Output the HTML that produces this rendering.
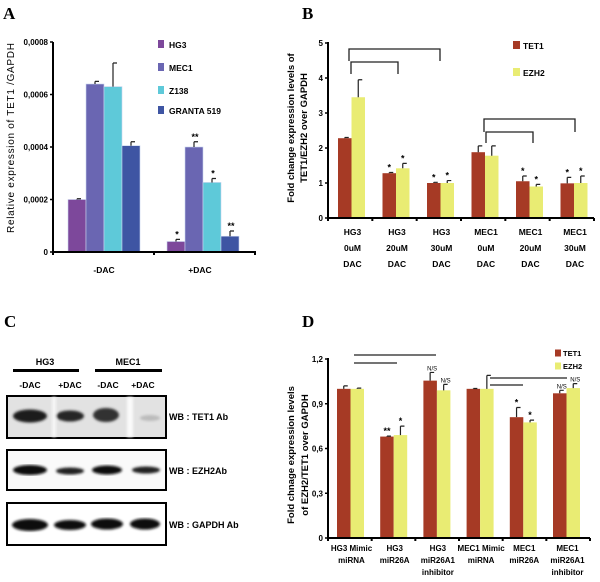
<!DOCTYPE html>
<html><head><meta charset="utf-8"><style>
body{margin:0;background:#fff}
svg{display:block;font-family:"Liberation Sans",sans-serif;font-weight:bold}
.lt{font-family:"Liberation Serif",serif;font-size:17px;font-weight:bold}
</style></head><body>
<svg id="fig" width="600" height="582" viewBox="0 0 600 582" xmlns="http://www.w3.org/2000/svg">
<defs><filter id="blur"><feGaussianBlur stdDeviation="1.3"/></filter></defs>
<text class="lt" x="3" y="19">A</text>
<text class="lt" x="302" y="19">B</text>
<text class="lt" x="4" y="327">C</text>
<text class="lt" x="302" y="327">D</text>
<g id="pa"></g>
<g id="pb"></g>
<g id="pd"></g>
<g id="pc">
 <text x="45" y="365" font-size="9" text-anchor="middle">HG3</text>
 <text x="128" y="365" font-size="9" text-anchor="middle">MEC1</text>
 <rect x="13" y="369" width="66" height="3" fill="#000"/>
 <rect x="95" y="369" width="67" height="3" fill="#000"/>
 <g font-size="8.5" text-anchor="middle">
  <text x="30" y="388">-DAC</text>
  <text x="70" y="388">+DAC</text>
  <text x="108" y="388">-DAC</text>
  <text x="143" y="388">+DAC</text>
 </g>
 <g>
  <rect x="7" y="396" width="159" height="42" fill="#e2e2e2" stroke="#000" stroke-width="2"/>
  <g filter="url(#blur)">
   <rect x="52" y="397" width="4" height="40" fill="#f6f6f6"/><rect x="127" y="397" width="6" height="40" fill="#fafafa"/>
   <ellipse cx="30" cy="416" rx="17" ry="6.5" fill="#1a1a1a"/>
   <ellipse cx="70" cy="416" rx="14" ry="5.5" fill="#262626"/>
   <ellipse cx="106" cy="415" rx="13" ry="7" fill="#333"/>
   <ellipse cx="150" cy="418" rx="10" ry="3" fill="#bbb"/>
  </g>
 </g>
 <g>
  <rect x="7" y="450" width="159" height="40" fill="#fafafa" stroke="#000" stroke-width="2"/>
  <g filter="url(#blur)">
   <ellipse cx="30" cy="470" rx="17" ry="5" fill="#111"/>
   <ellipse cx="70" cy="471" rx="14" ry="3.5" fill="#222"/>
   <ellipse cx="107" cy="470" rx="15" ry="4.5" fill="#111"/>
   <ellipse cx="146" cy="470" rx="14" ry="3.5" fill="#222"/>
  </g>
 </g>
 <g>
  <rect x="7" y="503" width="159" height="42" fill="#fff" stroke="#000" stroke-width="2"/>
  <g filter="url(#blur)">
   <ellipse cx="30" cy="525" rx="18" ry="6" fill="#0a0a0a"/>
   <ellipse cx="70" cy="525" rx="16" ry="5" fill="#0a0a0a"/>
   <ellipse cx="107" cy="524" rx="16" ry="5.5" fill="#0a0a0a"/>
   <ellipse cx="145" cy="524" rx="15" ry="5.5" fill="#0a0a0a"/>
  </g>
 </g>
 <g font-size="9">
  <text x="169" y="420">WB : TET1 Ab</text>
  <text x="169" y="474">WB : EZH2Ab</text>
  <text x="169" y="528">WB : GAPDH Ab</text>
 </g>
</g>
</svg>
<script>
// Panel A data
const aGroups = ["-DAC", "+DAC"];
const aSeries = ["HG3", "MEC1", "Z138", "GRANTA 519"];
const aMinus = [0.0002, 0.00064, 0.00063, 0.000405];
const aPlus = [0.00004, 0.0004, 0.000265, 0.00006];
const aMinusErr = [0.000003, 0.00001, 0.00009, 0.000015];
const aPlusErr = [0.000008, 0.00002, 0.000015, 0.00002];
const aMinusStars = ["", "", "", ""];
const aPlusStars = ["*", "**", "*", "**"];
const aTicks = [0, 0.0002, 0.0004, 0.0006, 0.0008];
const aTickLabels = ["0", "0,0002", "0,0004", "0,0006", "0,0008"];
// Panel B data
const bCats = [["HG3","0uM","DAC"],["HG3","20uM","DAC"],["HG3","30uM","DAC"],["MEC1","0uM","DAC"],["MEC1","20uM","DAC"],["MEC1","30uM","DAC"]];
const bTet1 = [2.28, 1.28, 1.0, 1.88, 1.05, 0.99];
const bEzh2 = [3.45, 1.42, 1.0, 1.78, 0.9, 1.0];
const bTet1Err = [0.02, 0.02, 0.02, 0.18, 0.15, 0.17];
const bEzh2Err = [0.5, 0.14, 0.07, 0.28, 0.06, 0.2];
const bTet1Stars = ["", "*", "*", "", "*", "*"];
const bEzh2Stars = ["", "*", "*", "", "*", "*"];
const bTicks = [0, 1, 2, 3, 4, 5];
// Panel D data
const dCats = [["HG3 Mimic","miRNA"],["HG3","miR26A"],["HG3","miR26A1","inhibitor"],["MEC1 Mimic","miRNA"],["MEC1","miR26A"],["MEC1","miR26A1","inhibitor"]];
const dTet1 = [1.0, 0.68, 1.055, 1.0, 0.81, 0.97];
const dEzh2 = [1.0, 0.69, 0.99, 1.0, 0.775, 1.005];
const dTet1Err = [0.02, 0.003, 0.055, 0.002, 0.065, 0.02];
const dEzh2Err = [0.005, 0.06, 0.04, 0.09, 0.015, 0.03];
const dTet1Stars = ["", "**", "N/S", "", "*", "N/S"];
const dEzh2Stars = ["", "*", "N/S", "", "*", "N/S"];
const dTicks = [0, 0.3, 0.6, 0.9, 1.2];
const dTickLabels = ["0", "0,3", "0,6", "0,9", "1,2"];

const NS = "http://www.w3.org/2000/svg";
function mk(parent, tag, attrs, txt){
  const e = document.createElementNS(NS, tag);
  for (const k in attrs) e.setAttribute(k, attrs[k]);
  if (txt !== undefined) e.textContent = txt;
  parent.appendChild(e); return e;
}
function errBar(g, x, yTop, yErr){
  const l = mk(g, "path", {d:`M${x} ${yTop}V${yErr}M${x} ${yErr}h4`, stroke:"#222", "stroke-width":1.2, fill:"none"});
  
  
}

// ---------- Panel A ----------
(function(){
  const g = document.getElementById("pa");
  const ay = v => 252 - v / 0.0008 * 210;
  const colors = ["#7d489b", "#6a66b2", "#5ec9d9", "#3e55a3"];
  const groupStart = [68, 167];
  const bw = 18;
  aTicks.forEach((t, i) => {
    const tk = mk(g, "line", {x1:50, x2:53, y1:ay(t), y2:ay(t), stroke:"#000", "stroke-width":1.5});
    
    
    const tl = mk(g, "text", {x:48, y:ay(t)+3, "font-size":8, "text-anchor":"end"}, aTickLabels[i]);
    
    
  });
  const vals = [aMinus, aPlus], errs = [aMinusErr, aPlusErr], stars = [aMinusStars, aPlusStars];
  for (let gi = 0; gi < 2; gi++) {
    for (let s = 0; s < 4; s++) {
      const x = groupStart[gi] + s * bw, v = vals[gi][s];
      const r = mk(g, "rect", {x:x, y:ay(v), width:bw, height:252-ay(v), fill:colors[s], stroke:"#c8d4ee", "stroke-width":0.6});
      
      
      errBar(g, x + bw/2, ay(v), ay(v + errs[gi][s]));
      if (stars[gi][s]) {
        const st = mk(g, "text", {x:x+bw/2+1, y:ay(v+errs[gi][s])-2, "font-size":9, "text-anchor":"middle"}, stars[gi][s]);
        
        
      }
    }
    const xl = mk(g, "text", {x:groupStart[gi]+36+(gi?-3:0), y:273, "font-size":8.5, "text-anchor":"middle"}, aGroups[gi]);
    
    
  }
  const ax = mk(g, "path", {d:"M53 42V253M53 252H256M53 252v3M154 252v3M255 252v3", stroke:"#000", "stroke-width":2, fill:"none"});
  
  
  const yt = mk(g, "text", {x:0, y:0, "font-size":10, "font-weight":"normal", "text-anchor":"middle", "textLength":190, transform:"translate(14,138) rotate(-90)"}, "Relative expression of TET1 /GAPDH");
  
  
  const ly = [44, 67, 90, 110];
  aSeries.forEach((n, i) => {
    const sw = mk(g, "rect", {x:158, y:ly[i]-4, width:6, height:8, fill:colors[i]});
    
    
    const lt = mk(g, "text", {x:169, y:ly[i]+4, "font-size":8.5}, n);
    
    
  });
})();

// ---------- grouped two-series chart (B & D) ----------
function pairChart(id, yFn, ticks, tickLabels, cats, s1, s2, e1, e2, st1, st2, g0, gw, labY, yMax, yMin0, xEnd){
  const g = document.getElementById(id);
  const c1 = "#a63a25", c2 = "#e9ec73";
  ticks.forEach((t, i) => {
    const tk = mk(g, "line", {x1:325, x2:328, y1:yFn(t), y2:yFn(t), stroke:"#000", "stroke-width":1.5});
    
    
    const tl = mk(g, "text", {x:323, y:yFn(t)+3, "font-size":8, "text-anchor":"end"}, tickLabels[i]);
    
    
  });
  const y0 = yFn(0), bw = 13.5;
  cats.forEach((c, i) => {
    const x = g0 + i * gw;
    [[s1,e1,st1,c1,'tet1'],[s2,e2,st2,c2,'ezh2']].forEach((s, k) => {
      const v = s[0][i], bx = x + k*bw;
      const r = mk(g, "rect", {x:bx, y:yFn(v), width:bw, height:y0-yFn(v), fill:s[3]});
      
      
      errBar(g, bx + bw/2, yFn(v), yFn(v + s[1][i]));
      if (s[2][i]) {
        const ns = s[2][i] === "N/S";
        const st = mk(g, "text", {x:bx+bw/2+(ns?2:0), y:yFn(v+s[1][i])-2, "font-size":ns?6:9, "font-weight":ns?"normal":"bold", "text-anchor":"middle"}, s[2][i]);
        
        
      }
    });
    c.forEach((line, li) => {
      const t = mk(g, "text", {x:x+bw+1, y:labY+li*(id==="pb"?16:12), "font-size":id==="pb"?8.5:8, "text-anchor":"middle"}, line);
      
      
    });
  });
  let d = `M328 ${yMax}V${y0+1}M328 ${y0}H${xEnd}`;
  for (let i = 0; i <= cats.length; i++) { const tx = 328 + i*(xEnd-328)/cats.length; d += `M${tx} ${y0}v3`; }
  const ax = mk(g, "path", {d:d, stroke:"#000", "stroke-width":2, fill:"none"});
  
  
}

// Panel B
const byFn = v => 218 - v * 35;
pairChart("pb", byFn, bTicks, bTicks.map(String), bCats, bTet1, bEzh2, bTet1Err, bEzh2Err, bTet1Stars, bEzh2Stars, 338, 44.5, 235, 42, 0, 594);
(function(){
  const g = document.getElementById("pb");
  const br = mk(g, "path", {d:"M349 61V49H440V61M351 74V62H398V74M484 132V119H575V132M486 143V132H533V143", stroke:"#222", "stroke-width":1.3, fill:"none"});
  
  
  const y1 = mk(g, "text", {x:0, y:0, "font-size":9.5, "text-anchor":"middle", transform:"translate(294,128) rotate(-90)"}, "Fold change expression levels of");
  
  
  const y2 = mk(g, "text", {x:0, y:0, "font-size":9.5, "text-anchor":"middle", transform:"translate(307,128) rotate(-90)"}, "TET1/EZH2 over GAPDH");
  
  
  [["TET1","#a63a25",45],["EZH2","#e9ec73",72]].forEach(l => {
    const sw = mk(g, "rect", {x:513, y:l[2]-4, width:7, height:8, fill:l[1]});
    
    
    const t = mk(g, "text", {x:523, y:l[2]+4, "font-size":8.5}, l[0]);
    
    
  });
})();

// Panel D
const dyFn = v => 538 - v / 0.3 * 44.75;
pairChart("pd", dyFn, dTicks, dTickLabels, dCats, dTet1, dEzh2, dTet1Err, dEzh2Err, dTet1Stars, dEzh2Stars, 337, 43.2, 551, 358, 0, 590);
(function(){
  const g = document.getElementById("pd");
  const br = mk(g, "path", {d:"M354 355H436M354 363H397M490 378H567M490 385H523", stroke:"#222", "stroke-width":1.2, fill:"none"});
  
  
  const y1 = mk(g, "text", {x:0, y:0, "font-size":9.5, "text-anchor":"middle", transform:"translate(294,455) rotate(-90)"}, "Fold chnage expression levels");
  
  
  const y2 = mk(g, "text", {x:0, y:0, "font-size":9.5, "text-anchor":"middle", transform:"translate(308,455) rotate(-90)"}, "of EZH2/TET1 over GAPDH");
  
  
  [["TET1","#a63a25",353],["EZH2","#e9ec73",366]].forEach(l => {
    const sw = mk(g, "rect", {x:555, y:l[2]-3.5, width:6, height:7, fill:l[1]});
    
    
    const t = mk(g, "text", {x:563, y:l[2]+3, "font-size":7.5}, l[0]);
    
    
  });
})();
</script>
</body></html>
